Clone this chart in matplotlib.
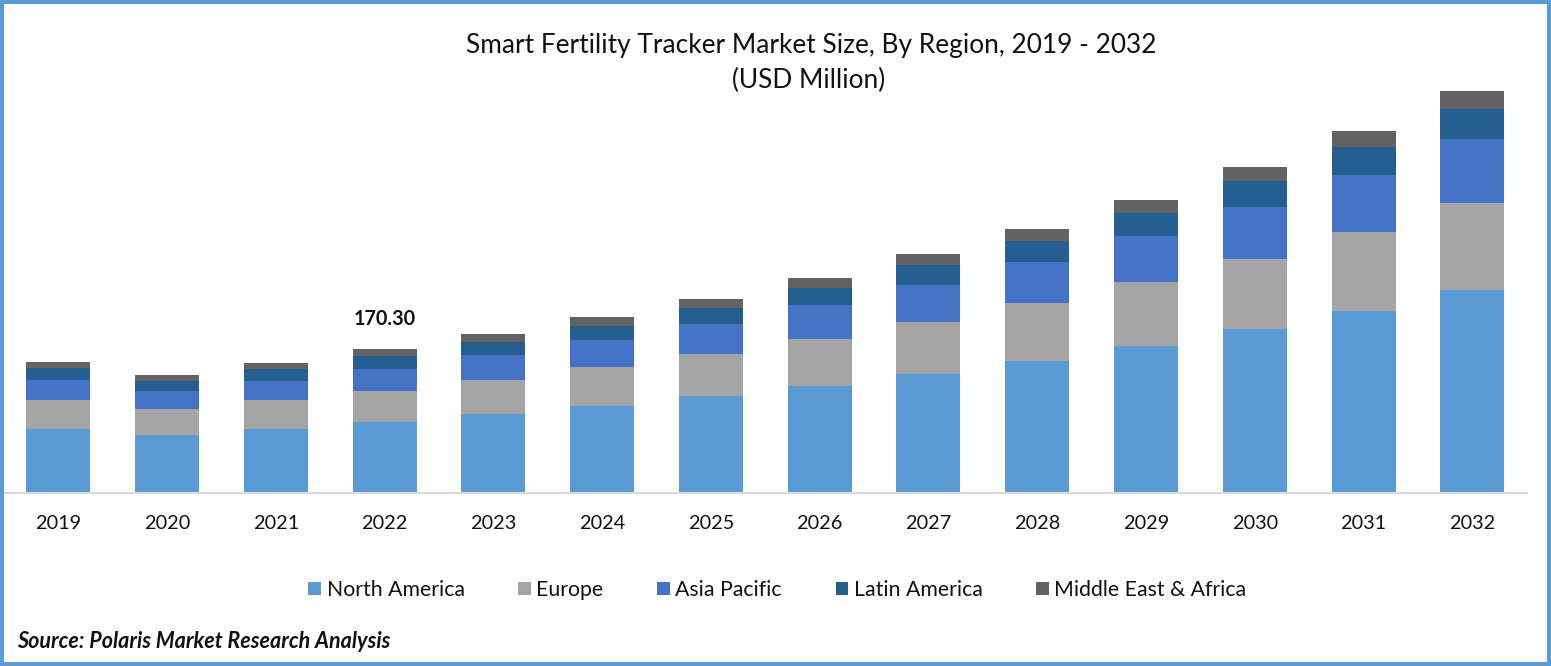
import matplotlib
matplotlib.use("Agg")
import matplotlib.pyplot as plt
import numpy as np
from matplotlib.patches import Rectangle

plt.rcParams['font.family'] = ['Lato', 'DejaVu Sans']

W, H = 1551, 666

years = [2019, 2020, 2021, 2022, 2023, 2024, 2025, 2026, 2027, 2028, 2029, 2030, 2031, 2032]
north_america = [75.7, 68.6, 75.7, 84.0, 93.4, 102.9, 114.7, 126.5, 140.7, 156.1, 173.8, 193.9, 215.2, 240.1]
europe = [34.3, 30.7, 34.3, 36.7, 40.2, 46.1, 49.7, 55.6, 61.5, 68.6, 75.7, 82.8, 93.4, 102.9]
asia_pacific = [23.7, 21.3, 22.5, 26.0, 29.6, 31.9, 35.5, 40.2, 43.8, 48.5, 54.4, 61.5, 67.4, 75.7]
latin_america = [14.2, 11.8, 14.2, 15.4, 15.4, 16.6, 18.9, 20.1, 23.7, 24.8, 27.2, 30.7, 33.1, 35.5]
middle_east = [7.1, 7.1, 7.1, 8.2, 9.5, 10.6, 10.6, 11.8, 13.0, 14.2, 15.4, 16.6, 18.9, 21.3]

series = [
    ("North America", north_america, "#5b9bd5"),
    ("Europe", europe, "#a5a5a5"),
    ("Asia Pacific", asia_pacific, "#4472c4"),
    ("Latin America", latin_america, "#255e91"),
    ("Middle East & Africa", middle_east, "#636363"),
]

fig = plt.figure(figsize=(W / 100, H / 100), dpi=100)
ax = fig.add_axes([3.9 / W, 1 - 493 / H, 1522.8 / W, 433 / H])

x = np.arange(len(years))
bottom = np.zeros(len(years))
for name, vals, col in series:
    ax.bar(x, vals, width=0.588, bottom=bottom, color=col, label=name, linewidth=0)
    bottom += np.array(vals)

ax.set_xlim(-0.5, len(years) - 0.5)
ax.set_ylim(0, 512)
ax.set_yticks([])
ax.set_xticks(x, years)
ax.tick_params(axis='x', length=0, pad=15.5, labelsize=14.3, labelcolor='#111111')
for s in ['top', 'left', 'right']:
    ax.spines[s].set_visible(False)
ax.spines['bottom'].set_color('#d9d9d9')
ax.spines['bottom'].set_linewidth(1.5)

# only 2022 is labelled in the original
ax.text(3, 170.3 + 36, "170.30", ha='center', va='center', fontsize=14.2, fontweight='bold', color='#111111')

fig.text(811 / W, 1 - 46 / H, "Smart Fertility Tracker Market Size, By Region, 2019 - 2032",
         ha='center', va='center', fontsize=18.9, color='#111111')
fig.text(808.5 / W, 1 - 80 / H, "(USD Million)", ha='center', va='center', fontsize=18.9, color='#111111')

handles, labels = ax.get_legend_handles_labels()
fig.legend(handles, labels, loc='center', bbox_to_anchor=(777.5 / W, 1 - 590 / H), ncol=5, frameon=False,
           fontsize=15.3, handlelength=0.61, handleheight=0.58, handletextpad=0.25, columnspacing=2.52,
           labelcolor='#111111')

fig.text(17 / W, 1 - 642 / H, "Source: Polaris Market Research Analysis", ha='left', va='center',
         fontsize=15.5, fontweight='bold', fontstyle='italic', color='#111111')

fig.add_artist(Rectangle((2 / W, 2 / H), (W - 4) / W, (H - 4) / H, transform=fig.transFigure,
                         fill=False, edgecolor='#5b9bd5', linewidth=2.9))

fig.savefig("out.png", dpi=100)
